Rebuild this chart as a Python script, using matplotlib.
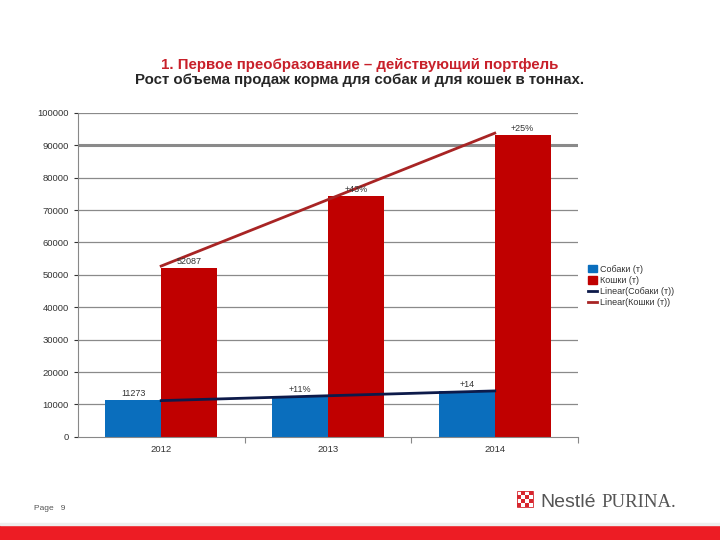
import numpy as np
import matplotlib.pyplot as plt
from matplotlib.patches import Rectangle
from matplotlib.lines import Line2D

plt.rcParams['font.family'] = ['Liberation Sans', 'DejaVu Sans']

years = ['2012', '2013', '2014']
dogs = [11273, 12513, 14265]
cats = [52087, 74484, 93105]
dog_labels = ['11273', '+11%', '+14']
cat_labels = ['52087', '+43%', '+25%']

blue = '#0a6ebd'
red = '#c00000'

fig = plt.figure(figsize=(7.2, 5.4), dpi=100)
ax = fig.add_axes([0.108, 0.191, 0.695, 0.600])

x = np.arange(len(years))
w = 0.335
b1 = ax.bar(x - w / 2, dogs, w, color=blue, zorder=2)
b2 = ax.bar(x + w / 2, cats, w, color=red, zorder=2)

for rect, lab in zip(b1, dog_labels):
    ax.text(rect.get_x() + rect.get_width() / 2, rect.get_height() + 600, lab,
            ha='center', va='bottom', fontsize=6.5, color='#333333', zorder=4)
for rect, lab in zip(b2, cat_labels):
    ax.text(rect.get_x() + rect.get_width() / 2, rect.get_height() + 600, lab,
            ha='center', va='bottom', fontsize=6.5, color='#333333', zorder=4)

# linear trend lines
kd = np.polyfit(x, dogs, 1)
kc = np.polyfit(x, cats, 1)
ax.plot(x, np.polyval(kd, x), color='#0d1a4a', lw=2, zorder=3)
ax.plot(x, np.polyval(kc, x), color='#a82424', lw=2, zorder=3)

ax.set_xlim(-0.5, 2.5)
ax.set_ylim(0, 100000)
ax.set_yticks(np.arange(0, 100001, 10000))
ax.tick_params(axis='y', labelsize=6.8, colors='#333333', length=3, width=0.8)
ax.set_yticklabels([str(v) for v in range(0, 100001, 10000)])
ax.set_xticks(x)
ax.set_xticklabels(years, fontsize=6.8, color='#333333')
ax.set_xticks([0.5, 1.5, 2.5], minor=True)
ax.tick_params(axis='x', which='major', length=0, pad=6)
ax.tick_params(axis='x', which='minor', length=4, width=0.8, color='#888888')

for v in range(10000, 100001, 10000):
    ax.axhline(v, color='#8a8a8a', lw=2.2 if v == 90000 else 0.9, zorder=1)

for s in ['top', 'right']:
    ax.spines[s].set_visible(False)
ax.spines['left'].set_color('#888888')
ax.spines['bottom'].set_color('#888888')

handles = [Rectangle((0, 0), 1, 1, color=blue),
           Rectangle((0, 0), 1, 1, color=red),
           Line2D([], [], color='#0d1a4a', lw=2),
           Line2D([], [], color='#a82424', lw=2)]
labels = ['Собаки (т)', 'Кошки (т)', 'Linear(Собаки (т))', 'Linear(Кошки (т))']
fig.legend(handles, labels, loc='upper left', bbox_to_anchor=(0.805, 0.525),
           frameon=False, fontsize=6.5, handlelength=1.0, handleheight=0.9,
           handletextpad=0.4, labelspacing=0.25, labelcolor='#333333')

fig.text(0.5, 0.873, '1. Первое преобразование – действующий портфель',
         ha='center', fontsize=10.8, fontweight='bold', color='#c8202a')
fig.text(0.5, 0.845, 'Рост объема продаж корма для собак и для кошек в тоннах.',
         ha='center', fontsize=10.8, fontweight='bold', color='#262626')

# footer
fig.text(0.047, 0.055, 'Page   9', fontsize=6, color='#555555')
fig.patches.append(Rectangle((0, 0), 1, 0.028, transform=fig.transFigure,
                             color='#ed1c24', zorder=0))
fig.patches.append(Rectangle((0, 0.028), 1, 0.004, transform=fig.transFigure,
                             color='#eeeeee', zorder=0))
sq = 0.0296 / 4
for i in range(4):
    for j in range(4):
        c = '#d7262e' if (i + j) % 2 == 0 else 'white'
        fig.patches.append(Rectangle((0.718 + i * sq * 0.75, 0.061 + j * sq),
                                     sq * 0.75, sq, transform=fig.transFigure,
                                     facecolor=c, edgecolor='none'))
fig.patches.append(Rectangle((0.718, 0.061), sq * 3, sq * 4,
                             transform=fig.transFigure, facecolor='none',
                             edgecolor='#d7262e', lw=0.6))
fig.text(0.751, 0.061, 'Nestlé', fontsize=14, color='#555555')
fig.text(0.836, 0.061, 'PURINA.', fontsize=13.5, color='#555555',
         family=['Liberation Serif', 'DejaVu Serif'])

fig.savefig('out.png', dpi=100, facecolor='white')
